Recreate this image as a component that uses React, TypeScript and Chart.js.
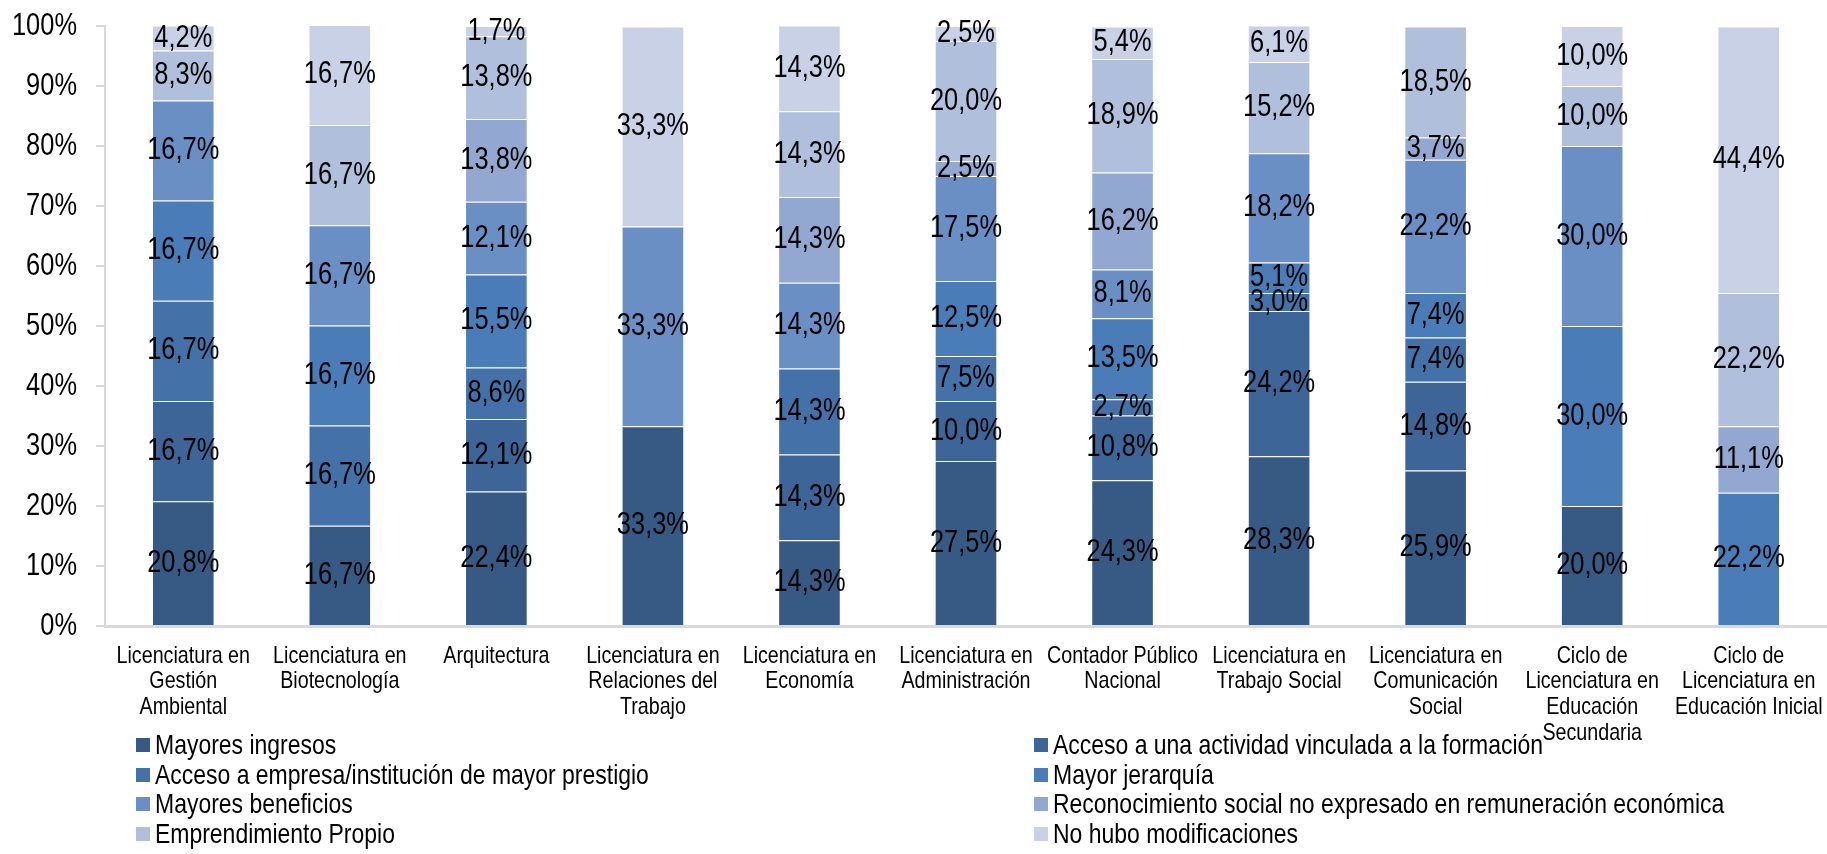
import React, { useEffect, useRef } from "react";
import { Chart, registerables } from "chart.js";

Chart.register(...registerables);

const categories: string[][] = [
  ["Licenciatura en", "Gestión", "Ambiental"],
  ["Licenciatura en", "Biotecnología"],
  ["Arquitectura"],
  ["Licenciatura en", "Relaciones del", "Trabajo"],
  ["Licenciatura en", "Economía"],
  ["Licenciatura en", "Administración"],
  ["Contador Público", "Nacional"],
  ["Licenciatura en", "Trabajo Social"],
  ["Licenciatura en", "Comunicación", "Social"],
  ["Ciclo de", "Licenciatura en", "Educación", "Secundaria"],
  ["Ciclo de", "Licenciatura en", "Educación Inicial"],
];

const seriesNames = [
  "Mayores ingresos",
  "Acceso a una actividad vinculada a la formación",
  "Acceso a empresa/institución de mayor prestigio",
  "Mayor jerarquía",
  "Mayores beneficios",
  "Reconocimiento social no expresado en remuneración económica",
  "Emprendimiento Propio",
  "No hubo modificaciones",
];

const seriesColors = [
  "#375A85",
  "#3E6597",
  "#4472A8",
  "#4A7CB8",
  "#6A8FC4",
  "#93A8D0",
  "#AFBFDC",
  "#C8D1E6",
];

const mayoresIngresos = [20.8, 16.7, 22.4, 33.3, 14.3, 27.5, 24.3, 28.3, 25.9, 20.0, 0];
const accesoActividad = [16.7, 0, 12.1, 0, 14.3, 10.0, 10.8, 24.2, 14.8, 0, 0];
const accesoEmpresa = [16.7, 16.7, 8.6, 0, 14.3, 7.5, 2.7, 3.0, 7.4, 0, 0];
const mayorJerarquia = [16.7, 16.7, 15.5, 0, 0, 12.5, 13.5, 5.1, 7.4, 30.0, 22.2];
const mayoresBeneficios = [16.7, 16.7, 12.1, 33.3, 14.3, 17.5, 8.1, 18.2, 22.2, 30.0, 0];
const reconocimientoSocial = [0, 0, 13.8, 0, 14.3, 2.5, 16.2, 0, 3.7, 0, 11.1];
const emprendimientoPropio = [8.3, 16.7, 13.8, 0, 14.3, 20.0, 18.9, 15.2, 18.5, 10.0, 22.2];
const noHuboModificaciones = [4.2, 16.7, 1.7, 33.3, 14.3, 2.5, 5.4, 6.1, 0, 10.0, 44.4];

const seriesValues = [
  mayoresIngresos,
  accesoActividad,
  accesoEmpresa,
  mayorJerarquia,
  mayoresBeneficios,
  reconocimientoSocial,
  emprendimientoPropio,
  noHuboModificaciones,
];

const yTicks = [0, 10, 20, 30, 40, 50, 60, 70, 80, 90, 100];

const FONT = "'Liberation Sans', Arial, sans-serif";
const SX = 0.82; // horizontal condensing to imitate a narrow typeface

function drawCondensed(ctx: any, text: string, x: number, y: number, align: string) {
  ctx.save();
  ctx.translate(x, y);
  ctx.scale(SX, 1);
  ctx.textAlign = align;
  ctx.fillText(text, 0, 0);
  ctx.restore();
}

const textPlugin = {
  id: "condensedText",
  afterDraw(chart: any) {
    const ctx = chart.ctx;
    const xs = chart.scales.x;
    const ys = chart.scales.y;
    const area = chart.chartArea;
    ctx.save();
    ctx.fillStyle = "#000";
    ctx.textBaseline = "middle";

    // segment labels
    ctx.font = `31px ${FONT}`;
    chart.data.datasets.forEach((ds: any, i: number) => {
      const meta = chart.getDatasetMeta(i);
      meta.data.forEach((el: any, j: number) => {
        const v = ds.data[j];
        if (!v) return;
        const p = el.getProps(["x", "y", "base"], true);
        drawCondensed(ctx, v.toFixed(1).replace(".", ",") + "%", p.x, (p.y + p.base) / 2, "center");
      });
    });

    // y tick labels
    ctx.font = `31px ${FONT}`;
    yTicks.forEach((v) => {
      drawCondensed(ctx, v + "%", area.left - 28, ys.getPixelForValue(v), "right");
    });

    // x category labels
    ctx.font = `24px ${FONT}`;
    const lh = 25.7;
    categories.forEach((lines, i) => {
      const x = xs.getPixelForValue(i);
      lines.forEach((line, k) => {
        drawCondensed(ctx, line, x, area.bottom + 30 + k * lh, "center");
      });
    });
    ctx.restore();
  },
};

export default function App() {
  const canvasRef = useRef<HTMLCanvasElement | null>(null);

  useEffect(() => {
    if (!canvasRef.current) return;
    const chart = new Chart(canvasRef.current, {
      type: "bar",
      data: {
        labels: categories.map((c) => c.join(" ")),
        datasets: seriesNames.map((name, i) => ({
          label: name,
          data: seriesValues[i],
          backgroundColor: seriesColors[i],
          borderColor: "rgba(255,255,255,0.3)",
          borderWidth: 1,
          categoryPercentage: 1,
          barPercentage: 0.4,
        })),
      },
      options: {
        animation: false,
        responsive: false,
        maintainAspectRatio: false,
        layout: { padding: { top: 26, right: 0, bottom: 0, left: 0 } },
        plugins: {
          legend: { display: false },
          tooltip: { enabled: false },
        },
        scales: {
          x: {
            stacked: true,
            grid: { display: false, drawTicks: false },
            border: { display: true, color: "#D9D9D9", width: 3 },
            ticks: { display: false, autoSkip: false, maxRotation: 0 },
            afterFit: (scale: any) => {
              scale.height = 228;
            },
          },
          y: {
            stacked: true,
            min: 0,
            max: 100,
            afterBuildTicks: (scale: any) => {
              scale.ticks = yTicks.map((v) => ({ value: v }));
            },
            grid: {
              display: true,
              drawOnChartArea: false,
              drawTicks: true,
              tickLength: 9,
              color: "#D9D9D9",
              lineWidth: 2,
            },
            border: { display: true, color: "#D9D9D9", width: 2 },
            ticks: { display: false },
            afterFit: (scale: any) => {
              scale.width = 105;
            },
          },
        },
      },
      plugins: [textPlugin],
    });
    return () => chart.destroy();
  }, []);

  const legendRows = [0, 1, 2, 3];
  return (
    <div
      style={{
        position: "fixed",
        left: 0,
        top: 0,
        width: 1827,
        height: 854,
        background: "#fff",
        overflow: "hidden",
      }}
    >
      <canvas ref={canvasRef} width={1827} height={854} style={{ width: 1827, height: 854, display: "block" }} />
      {legendRows.map((r) =>
        [0, 1].map((c) => {
          const idx = r * 2 + c;
          return (
            <div
              key={idx}
              style={{
                position: "absolute",
                left: c === 0 ? 136 : 1034,
                top: 745 + r * 29.5 - 16,
                height: 32,
                display: "flex",
                alignItems: "center",
                fontFamily: FONT,
                fontSize: 28,
                color: "#000",
                whiteSpace: "nowrap",
              }}
            >
              <span
                style={{
                  display: "inline-block",
                  width: 14,
                  height: 14,
                  background: seriesColors[idx],
                  marginRight: 5,
                  flex: "none",
                }}
              />
              <span style={{ display: "inline-block", transform: `scaleX(${SX})`, transformOrigin: "left center" }}>
                {seriesNames[idx]}
              </span>
            </div>
          );
        })
      )}
    </div>
  );
}
